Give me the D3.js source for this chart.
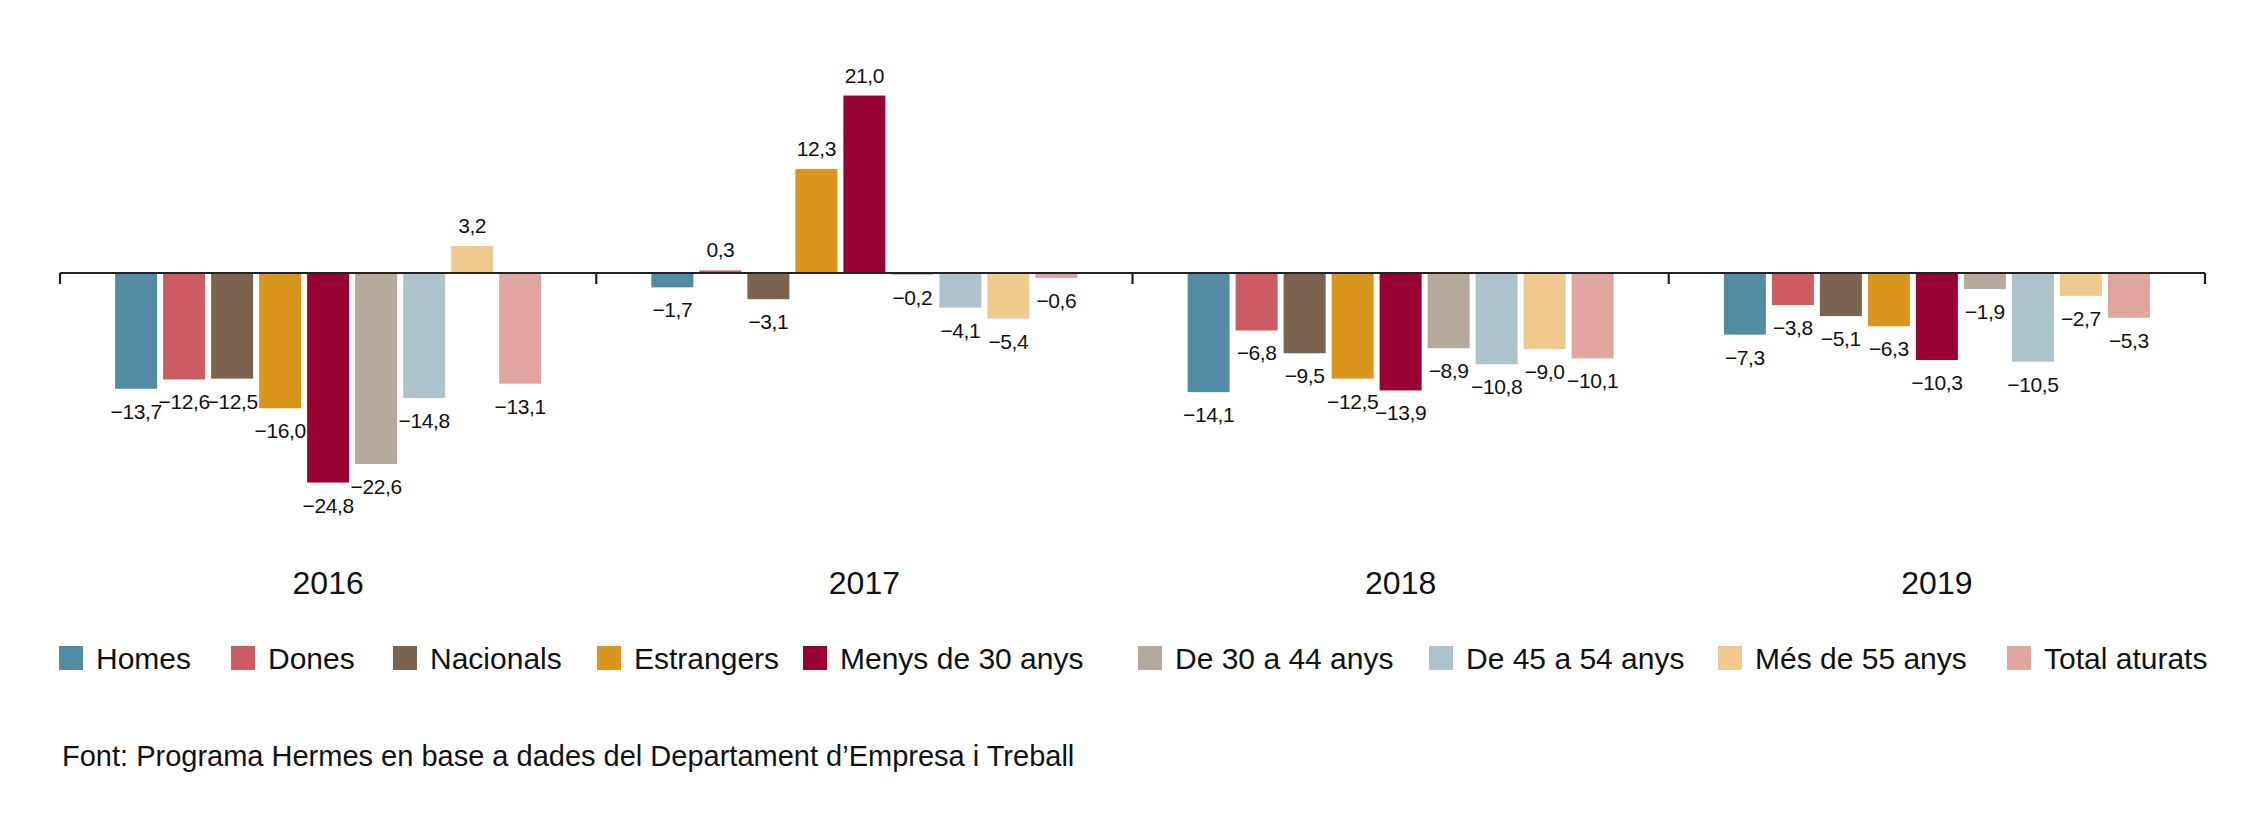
<!DOCTYPE html>
<html>
<head>
<meta charset="utf-8">
<script src="https://cdn.jsdelivr.net/npm/d3@7"></script>
<style>
  html, body { margin: 0; padding: 0; background: #fff; }
  svg { display: block; font-family: "Liberation Sans", Arial, Helvetica, sans-serif; }
</style>
</head>
<body>
<svg id="chart" width="2268" height="833"></svg>
<script>
const years = ["2016", "2017", "2018", "2019"];
const seriesNames = ["Homes", "Dones", "Nacionals", "Estrangers", "Menys de 30 anys",
  "De 30 a 44 anys", "De 45 a 54 anys", "Més de 55 anys", "Total aturats"];
const seriesColors = ["#528ba3", "#cd5c62", "#7a6450", "#da951c", "#990033",
  "#b5a99b", "#adc3cc", "#efc98e", "#e0a59f"];
const homes      = [-13.7, -1.7, -14.1, -7.3];
const dones      = [-12.6,  0.3,  -6.8, -3.8];
const nacionals  = [-12.5, -3.1,  -9.5, -5.1];
const estrangers = [-16.0, 12.3, -12.5, -6.3];
const menys30    = [-24.8, 21.0, -13.9, -10.3];
const de30a44    = [-22.6, -0.2,  -8.9, -1.9];
const de45a54    = [-14.8, -4.1, -10.8, -10.5];
const mes55      = [  3.2, -5.4,  -9.0, -2.7];
const total      = [-13.1, -0.6, -10.1, -5.3];
const sourceText = "Font: Programa Hermes en base a dades del Departament d’Empresa i Treball";

const seriesValues = [homes, dones, nacionals, estrangers, menys30, de30a44, de45a54, mes55, total];

const svg = d3.select("#chart");
const x0 = 60, x1 = 2205, y0 = 273, pxPerUnit = 8.45;

const xBand = d3.scaleBand().domain(years).range([x0, x1]).paddingInner(0).paddingOuter(0);
const innerW = 9 * 48 - 6;
const outer = (xBand.bandwidth() - innerW) / 2;
const xSeries = d3.scaleBand().domain(seriesNames)
  .range([outer, xBand.bandwidth() - outer]).paddingInner(6 / 48).paddingOuter(0);
const y = d3.scaleLinear().domain([-30, 25]).range([y0 + 30 * pxPerUnit, y0 - 25 * pxPerUnit]);

const fmt = v => (v < 0 ? "−" : "") + Math.abs(v).toFixed(1).replace(".", ",");

const data = [];
years.forEach((yr, i) => seriesNames.forEach((s, j) => data.push({year: yr, series: s, value: seriesValues[j][i], color: seriesColors[j]})));

svg.append("g").selectAll("rect").data(data).join("rect")
  .attr("x", d => xBand(d.year) + xSeries(d.series))
  .attr("width", xSeries.bandwidth())
  .attr("y", d => Math.min(y(d.value), y(0)))
  .attr("height", d => Math.abs(y(d.value) - y(0)))
  .attr("fill", d => d.color);

svg.append("g").selectAll("text").data(data).join("text")
  .attr("x", d => xBand(d.year) + xSeries(d.series) + xSeries.bandwidth() / 2)
  .attr("y", d => d.value >= 0 ? y(d.value) - 13 : y(d.value) + 30)
  .attr("text-anchor", "middle")
  .attr("font-size", 21)
  .attr("letter-spacing", -0.4)
  .attr("fill", "#111")
  .text(d => fmt(d.value));

// axis
const axisG = svg.append("g").attr("transform", `translate(0,${y0})`);
axisG.call(d3.axisBottom(xBand).tickSize(0).tickFormat(""));
axisG.select(".domain").attr("stroke", "#222").attr("stroke-width", 2.2).attr("d", `M${x0},0H${x1}`);
const tickPos = years.map(yr => xBand(yr)).concat([x1]);
axisG.selectAll("line.tk").data(tickPos).join("line").attr("class", "tk")
  .attr("x1", d => d).attr("x2", d => d).attr("y1", 0).attr("y2", 11)
  .attr("stroke", "#222").attr("stroke-width", 2.2);

svg.append("g").selectAll("text").data(years).join("text")
  .attr("x", d => xBand(d) + xBand.bandwidth() / 2)
  .attr("y", 594)
  .attr("text-anchor", "middle")
  .attr("font-size", 32)
  .attr("fill", "#111")
  .text(d => d);

// legend (item left edges)
const legendX = [59, 231, 393, 597, 803, 1138, 1429, 1718, 2007];
const legend = svg.append("g");
seriesNames.forEach((s, j) => {
  const lx = legendX[j];
  legend.append("rect").attr("x", lx).attr("y", 646).attr("width", 24).attr("height", 24).attr("fill", seriesColors[j]);
  legend.append("text").attr("x", lx + 37).attr("y", 669).attr("font-size", 30).attr("fill", "#111").text(s);
});

svg.append("text").attr("x", 62).attr("y", 766).attr("font-size", 29).attr("fill", "#111").text(sourceText);
</script>
</body>
</html>
